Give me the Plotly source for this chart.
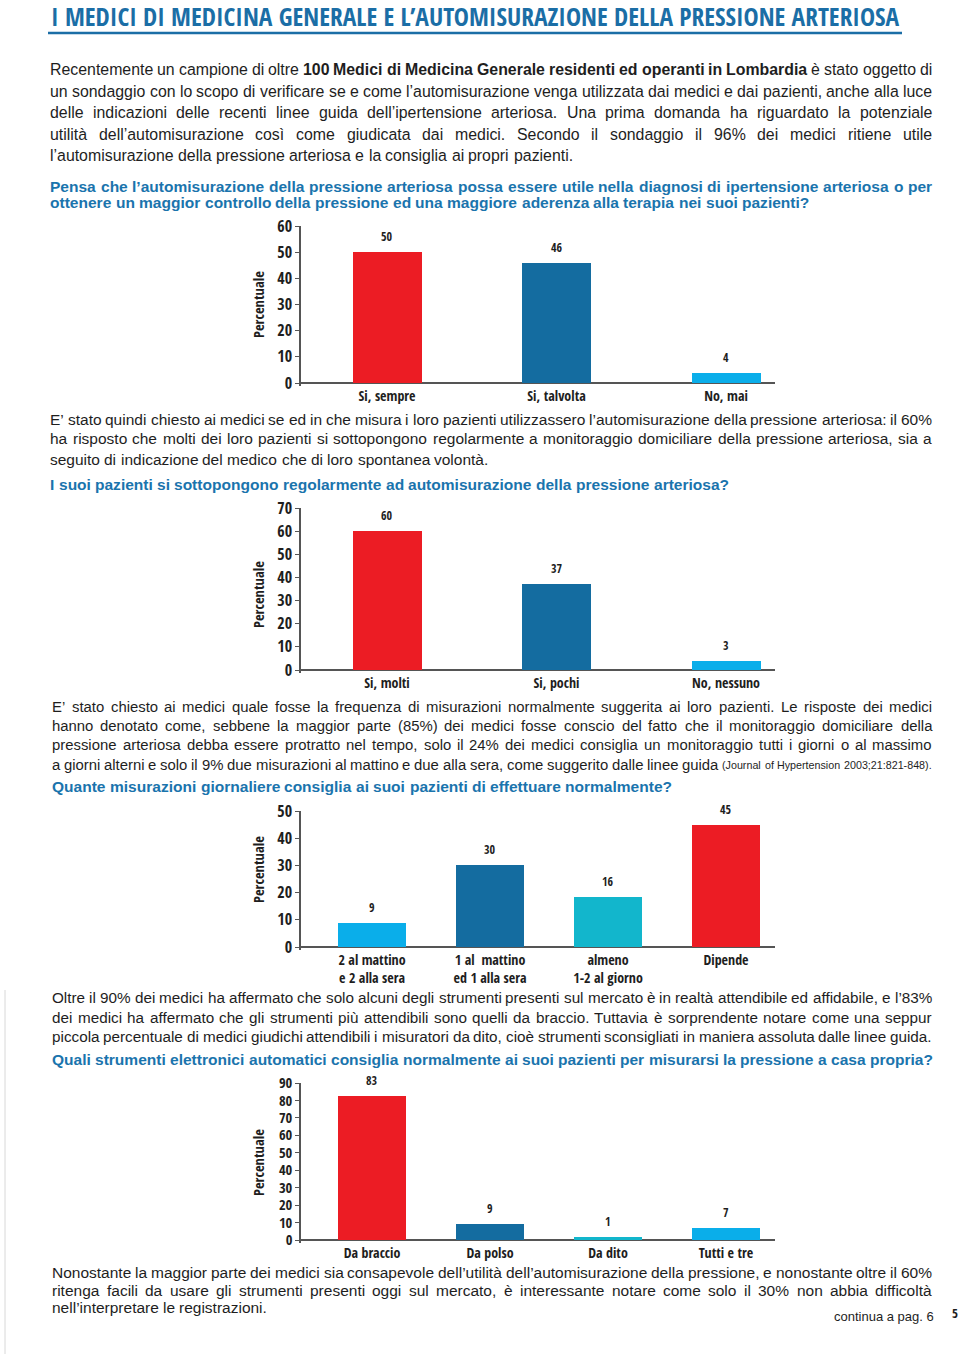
import re
import plotly.graph_objects as go

W, H = 960, 1354

# ---------------- data ----------------
TITLE = "I MEDICI DI MEDICINA GENERALE E L’AUTOMISURAZIONE DELLA PRESSIONE ARTERIOSA"

q1_question = [
    "Pensa che l’automisurazione della pressione arteriosa possa essere utile nella diagnosi di ipertensione arteriosa o per",
    "ottenere un maggior controllo della pressione ed una maggiore aderenza alla terapia nei suoi pazienti?",
]
q1_categories = ["Si, sempre", "Si, talvolta", "No, mai"]
q1_heights = [50, 46, 4]
q1_labels = ["50", "46", "4"]
q1_yticks = [0, 10, 20, 30, 40, 50, 60]

q2_question = ["I suoi pazienti si sottopongono regolarmente ad automisurazione della pressione arteriosa?"]
q2_categories = ["Si, molti", "Si, pochi", "No, nessuno"]
q2_heights = [60, 37, 4]
q2_labels = ["60", "37", "3"]
q2_yticks = [0, 10, 20, 30, 40, 50, 60, 70]

q3_question = ["Quante misurazioni giornaliere consiglia ai suoi pazienti di effettuare normalmente?"]
q3_categories = ["2 al mattino<br>e 2 alla sera", "1 al  mattino<br>ed 1 alla sera", "almeno<br>1-2 al giorno", "Dipende"]
q3_heights = [8.7, 30, 18.5, 44.7]
q3_labels = ["9", "30", "16", "45"]
q3_yticks = [0, 10, 20, 30, 40, 50]

q4_question = ["Quali strumenti elettronici automatici consiglia normalmente ai suoi pazienti per misurarsi la pressione a casa propria?"]
q4_categories = ["Da braccio", "Da polso", "Da dito", "Tutti e tre"]
q4_heights = [82.3, 9, 1.5, 7]
q4_labels = ["83", "9", "1", "7"]
q4_yticks = [0, 10, 20, 30, 40, 50, 60, 70, 80, 90]

para1 = [
    "Recentemente un campione di oltre <b>100 Medici di Medicina Generale residenti ed operanti in Lombardia</b> è stato oggetto di",
    "un sondaggio con lo scopo di verificare se e come l’automisurazione venga utilizzata dai medici e dai pazienti, anche alla luce",
    "delle indicazioni delle recenti linee guida dell’ipertensione arteriosa. Una prima domanda ha riguardato la potenziale",
    "utilità dell’automisurazione così come giudicata dai medici. Secondo il sondaggio il 96% dei medici ritiene utile",
    "l’automisurazione della pressione arteriosa e la consiglia ai propri pazienti.",
]
para2 = [
    "E’ stato quindi chiesto ai medici se ed in che misura i loro pazienti utilizzassero l’automisurazione della pressione arteriosa: il 60%",
    "ha risposto che molti dei loro pazienti si sottopongono regolarmente a monitoraggio domiciliare della pressione arteriosa, sia a",
    "seguito di indicazione del medico che di loro spontanea volontà.",
]
para3 = [
    "E’ stato chiesto ai medici quale fosse la frequenza di misurazioni normalmente suggerita ai loro pazienti. Le risposte dei medici",
    "hanno denotato come, sebbene la maggior parte (85%) dei medici fosse conscio del fatto che il monitoraggio domiciliare della",
    "pressione arteriosa debba essere protratto nel tempo, solo il 24% dei medici consiglia un monitoraggio tutti i giorni o al massimo",
    "a giorni alterni e solo il 9% due misurazioni al mattino e due alla sera, come suggerito dalle linee guida <s>(Journal of Hypertension 2003;21:821-848).</s>",
]
para4 = [
    "Oltre il 90% dei medici ha affermato che solo alcuni degli strumenti presenti sul mercato è in realtà attendibile ed affidabile, e l’83%",
    "dei medici ha affermato che gli strumenti più attendibili sono quelli da braccio. Tuttavia è sorprendente notare come una seppur",
    "piccola percentuale di medici giudichi attendibili i misuratori da dito, cioè strumenti sconsigliati in maniera assoluta dalle linee guida.",
]
para5 = [
    "Nonostante la maggior parte dei medici sia consapevole dell’utilità dell’automisurazione della pressione, e nonostante oltre il 60%",
    "ritenga facili da usare gli strumenti presenti oggi sul mercato, è interessante notare come solo il 30% non abbia difficoltà",
    "nell’interpretare le registrazioni.",
]
footer_text = "continua a pag. 6"
page_number = "5"
axis_title = "Percentuale"

# ---------------- styles ----------------
RED = "#ec1c24"
DBLUE = "#146ca0"
LBLUE = "#0aaeea"
TEAL = "#12b6cc"
TITLE_BLUE = "#1b6ea6"
Q_BLUE = "#1a74ad"
INK = "#1e1e1e"
AX = "#555555"
COND = "Open Sans Condensed, DejaVu Sans Condensed, sans-serif"
SANS = "Liberation Sans, Arial, sans-serif"

q1_colors = [RED, DBLUE, LBLUE]
q2_colors = [RED, DBLUE, LBLUE]
q3_colors = [LBLUE, DBLUE, TEAL, RED]
q4_colors = [RED, DBLUE, TEAL, LBLUE]

charts = [
    dict(cats=q1_categories, h=q1_heights, lab=q1_labels, col=q1_colors, ticks=q1_yticks,
         ytop=226, ybot=383, c0=387, step=169.5, bw=69, ttl=305, tfs=16),
    dict(cats=q2_categories, h=q2_heights, lab=q2_labels, col=q2_colors, ticks=q2_yticks,
         ytop=508, ybot=670, c0=387, step=169.5, bw=69, ttl=595, tfs=16),
    dict(cats=q3_categories, h=q3_heights, lab=q3_labels, col=q3_colors, ticks=q3_yticks,
         ytop=811, ybot=947, c0=372, step=118, bw=68, ttl=870, tfs=16),
    dict(cats=q4_categories, h=q4_heights, lab=q4_labels, col=q4_colors, ticks=q4_yticks,
         ytop=1083, ybot=1240, c0=372, step=118, bw=68, ttl=1163, tfs=14.5),
]
AX_LEFT, AX_RIGHT = 301, 775
EXT = 3

# Arial / Liberation Sans advance widths (1/1000 em)
_R = dict(zip(" !%'(),-./:;?’", [278, 278, 889, 191, 333, 333, 278, 333, 278, 278, 278, 278, 556, 222]))
_R.update({d: 556 for d in "0123456789"})
_R.update(dict(zip("ABCDEFGHIJKLMNOPQRSTUVWXYZ",
                   [667, 667, 722, 722, 667, 611, 778, 722, 278, 500, 667, 556, 833, 722, 778, 667, 778, 722, 667, 611, 722, 667, 944, 667, 667, 611])))
_R.update(dict(zip("abcdefghijklmnopqrstuvwxyz",
                   [556, 556, 500, 556, 556, 278, 556, 556, 222, 222, 500, 222, 833, 556, 556, 556, 556, 333, 500, 278, 556, 500, 722, 500, 500, 500])))
_R.update({"à": 556, "è": 556, "é": 556, "ì": 278, "ò": 556, "ù": 556})
_B = dict(zip(" !%'(),-./:;?’", [278, 333, 889, 238, 333, 333, 278, 333, 278, 278, 333, 333, 611, 278]))
_B.update({d: 556 for d in "0123456789"})
_B.update(dict(zip("ABCDEFGHIJKLMNOPQRSTUVWXYZ",
                   [722, 722, 722, 722, 667, 611, 778, 722, 278, 556, 722, 611, 833, 722, 778, 667, 778, 722, 667, 611, 722, 667, 944, 667, 667, 611])))
_B.update(dict(zip("abcdefghijklmnopqrstuvwxyz",
                   [556, 611, 556, 611, 556, 333, 611, 611, 278, 278, 556, 278, 889, 611, 611, 611, 611, 389, 556, 333, 611, 556, 778, 556, 556, 500])))
_B.update({"à": 556, "è": 556, "é": 556, "ì": 278, "ò": 611, "ù": 611})
SMALL = 0.72


def tokens(line, bold_all=False):
    out, bold, small = [], bold_all, False
    for part in re.split(r"(</?b>|</?s>)", line):
        if part in ("<b>", "</b>"):
            bold = part == "<b>" or bold_all
            continue
        if part in ("<s>", "</s>"):
            small = part == "<s>"
            continue
        for w in part.split(" "):
            if w:
                out.append((w, bold, small))
    return out


def units(tok):
    w, b, s = tok
    t = _B if b else _R
    u = sum(t.get(ch, 556) for ch in w)
    return u * (SMALL if s else 1.0)


def line_units(line, bold_all=False):
    tk = tokens(line, bold_all)
    return sum(units(t) for t in tk) + (len(tk) - 1) * 278


fig = go.Figure()
annotations = []
shapes = []


def py(y):
    return 1 - y / H


def paragraph(lines, ys, x0, x1, pref, color=INK, bold_all=False, justify_last=False):
    toks = [tokens(l, bold_all) for l in lines]
    just = [True] * (len(lines) - 1) + [justify_last]
    size = pref
    for tk, j in zip(toks, just):
        if j:
            u = sum(units(t) for t in tk) + (len(tk) - 1) * 250
            size = min(size, (x1 - x0) * 1000 / u)
    for tk, j, y in zip(toks, just, ys):
        ws = [units(t) * size / 1000 for t in tk]
        gap = (x1 - x0 - sum(ws)) / (len(tk) - 1) if j else 278 * size / 1000
        x = x0
        for (w, b, s), wd in zip(tk, ws):
            txt = f"<b>{w}</b>" if b else w
            annotations.append(dict(
                x=x / W, y=py(y), xref="paper", yref="paper", xanchor="left", yanchor="middle",
                text=txt, showarrow=False, borderpad=0, borderwidth=0,
                font=dict(family=SANS, size=size * (SMALL if s else 1), color=color),
            ))
            x += wd + gap
    return size


for i, c in enumerate(charts):
    n = i + 1
    xa = "x" if n == 1 else f"x{n}"
    ya = "y" if n == 1 else f"y{n}"
    ymax = c["ticks"][-1]
    ppu = (c["ybot"] - c["ytop"]) / ymax
    fig.add_trace(go.Bar(
        x=c["cats"], y=c["h"], marker=dict(color=c["col"], line=dict(width=0)),
        width=c["bw"] / c["step"], xaxis=xa, yaxis=ya, showlegend=False, hoverinfo="skip",
    ))
    for cat, hv, lb in zip(c["cats"], c["h"], c["lab"]):
        annotations.append(dict(
            x=cat, y=hv, xref=xa, yref=ya, text=f"<b>{lb}</b>", showarrow=False,
            xanchor="center", yanchor="bottom", yshift=5,
            font=dict(family=COND, size=12, color=INK),
        ))
    annotations.append(dict(
        x=258 / W, y=py(c["ttl"]), xref="paper", yref="paper", text=f"<b>{axis_title}</b>",
        xanchor="center", yanchor="middle", textangle=-90, showarrow=False,
        font=dict(family=COND, size=14.5, color=INK),
    ))
    xkey = "xaxis" if n == 1 else f"xaxis{n}"
    ykey = "yaxis" if n == 1 else f"yaxis{n}"
    fig.update_layout(**{
        xkey: dict(
            domain=[AX_LEFT / W, AX_RIGHT / W], anchor=ya, type="category",
            range=[(AX_LEFT - c["c0"]) / c["step"], (AX_RIGHT - c["c0"]) / c["step"]],
            showline=False, showgrid=False, zeroline=False, ticks="", automargin=False,
            tickfont=dict(family=COND, size=14, color=INK, weight="bold"), fixedrange=True,
        ),
        ykey: dict(
            domain=[py(c["ybot"] + EXT), py(c["ytop"])], anchor=xa,
            range=[-EXT / ppu, ymax], tickvals=c["ticks"], showgrid=False, automargin=False,
            showline=True, linecolor=AX, linewidth=1.5,
            zeroline=True, zerolinecolor=AX, zerolinewidth=1.5,
            ticks="outside", ticklen=4, tickcolor=AX, tickwidth=1,
            tickfont=dict(family=COND, size=c["tfs"], color=INK, weight="bold"), fixedrange=True,
        ),
    })

# title
annotations.append(dict(
    x=49 / W, y=py(16), xref="paper", yref="paper", xanchor="left", yanchor="middle",
    text=f"<b>{TITLE}</b>", showarrow=False, font=dict(family=COND, size=25.4, color=TITLE_BLUE),
))
shapes.append(dict(type="line", xref="paper", yref="paper", x0=48 / W, x1=902 / W,
                   y0=py(33), y1=py(33), line=dict(color=TITLE_BLUE, width=2.5)))

# question font size fitted so that the longest question spans the text column
q_size = 881 * 1000 / line_units(q4_question[0], True)

paragraph(para1, [70, 91, 113, 134, 155], 50, 932, 16.5)
paragraph(q1_question, [186, 202], 50, 932, q_size, Q_BLUE, True)
paragraph(para2, [420, 439, 459], 50, 932, 15.5)
paragraph(q2_question, [484], 50, 932, q_size, Q_BLUE, True)
paragraph(para3, [707, 726, 745, 765], 52, 932, 15.5, justify_last=True)
paragraph(q3_question, [786], 52, 932, q_size, Q_BLUE, True)
paragraph(para4, [997, 1017, 1036], 52, 932, 15.5, justify_last=True)
paragraph(q4_question, [1059], 52, 933, q_size, Q_BLUE, True)
paragraph(para5, [1272, 1290, 1307], 52, 932, 15.5)

annotations.append(dict(x=936 / W, y=py(1316), xref="paper", yref="paper", xanchor="right",
                        yanchor="middle", text=footer_text, showarrow=False,
                        font=dict(family=SANS, size=13, color=INK)))
annotations.append(dict(x=955 / W, y=py(1313), xref="paper", yref="paper", xanchor="center",
                        yanchor="middle", text=f"<b>{page_number}</b>", showarrow=False,
                        font=dict(family=COND, size=13, color=INK)))
shapes.append(dict(type="line", xref="paper", yref="paper", x0=5 / W, x1=5 / W,
                   y0=0, y1=py(990), line=dict(color="#d8d8d8", width=1)))

fig.update_layout(
    width=W, height=H, autosize=False, margin=dict(l=0, r=0, t=0, b=0, pad=0),
    paper_bgcolor="white", plot_bgcolor="white",
    annotations=annotations, shapes=shapes, bargap=0,
)

fig.write_html("out.html", config={"displayModeBar": False},
               post_script="document.body.style.margin='0';")
